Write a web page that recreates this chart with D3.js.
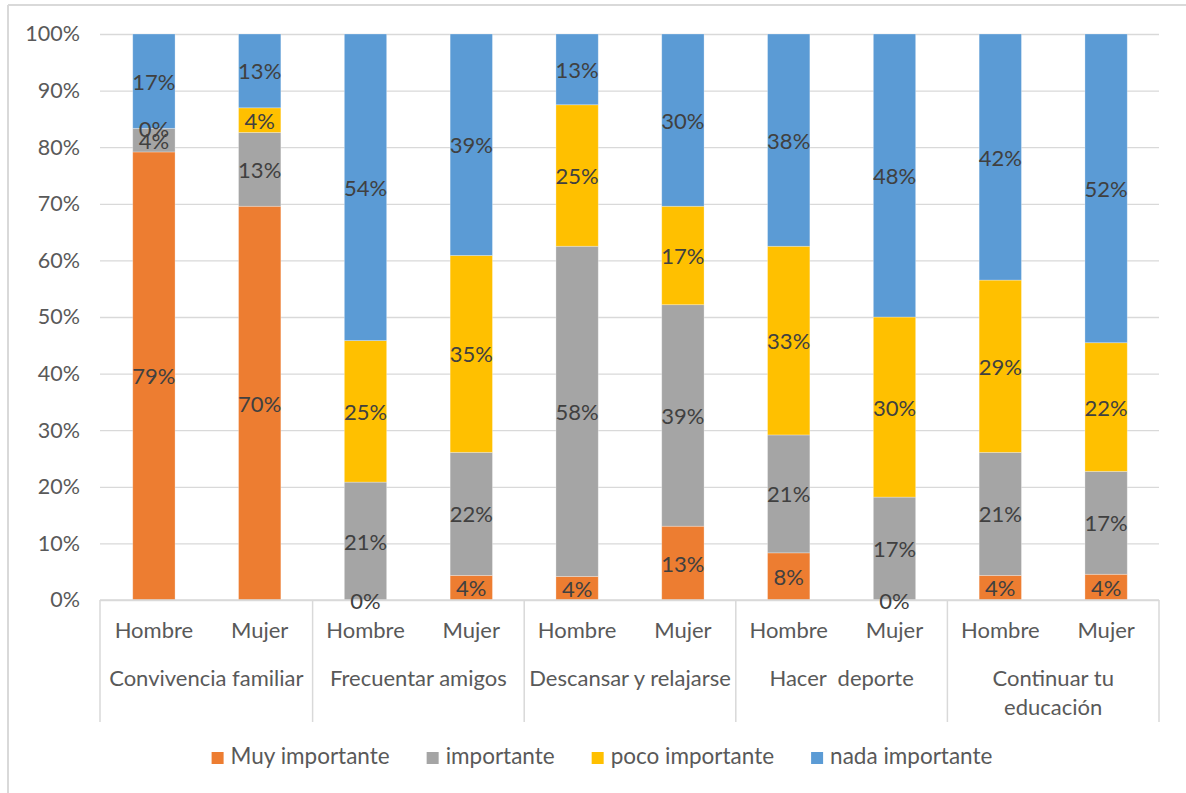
<!DOCTYPE html>
<html>
<head>
<meta charset="utf-8">
<script src="https://cdn.jsdelivr.net/npm/d3@7/dist/d3.min.js"></script>
<style>
  html, body { margin: 0; padding: 0; background: #ffffff; }
  svg { display: block; font-family: Lato, "Liberation Sans", sans-serif; }
  text { white-space: pre; }
</style>
</head>
<body>
<svg id="chart" width="1186" height="793"></svg>
<script>
// Activity groups, split into two lines where the label wraps
const groupLabels = [
  ["Convivencia familiar"],
  ["Frecuentar amigos"],
  ["Descansar y relajarse"],
  ["Hacer  deporte"],
  ["Continuar tu", "educación"]
];
const subLabels = ["Hombre", "Mujer"];

// Series (percent of respondents), one value per bar: group × sex
const seriesNames = ["Muy importante", "importante", "poco importante", "nada importante"];
const muyImportante  = [79.17, 69.57,  0.00,  4.35,  4.17, 13.04,  8.33,  0.00,  4.17,  4.35];
const importante     = [ 4.17, 13.04, 20.83, 21.74, 58.33, 39.13, 20.83, 17.39, 20.83, 17.39];
const pocoImportante = [ 0.00,  4.35, 25.00, 34.78, 25.00, 17.39, 33.33, 30.43, 29.17, 21.74];
const nadaImportante = [16.67, 13.04, 54.17, 39.13, 12.50, 30.43, 37.50, 47.83, 41.67, 52.17];
const yTicks = [0, 0.1, 0.2, 0.3, 0.4, 0.5, 0.6, 0.7, 0.8, 0.9, 1];

const colors = ["#ED7D31", "#A5A5A5", "#FFC000", "#5B9BD5"];

// Build one row per bar
const rows = [];
groupLabels.forEach((g, gi) => {
  subLabels.forEach((s, si) => {
    const i = gi * subLabels.length + si;
    rows.push({
      key: i,
      group: gi,
      sub: s,
      [seriesNames[0]]: muyImportante[i],
      [seriesNames[1]]: importante[i],
      [seriesNames[2]]: pocoImportante[i],
      [seriesNames[3]]: nadaImportante[i]
    });
  });
});

const svg = d3.select("#chart");
const plot = { left: 100, right: 1159, top: 34, bottom: 600 };

// Outer chart frame
svg.append("line").attr("x1", 8).attr("x2", 1186).attr("y1", 5).attr("y2", 5)
  .attr("stroke", "#d9d9d9").attr("stroke-width", 2);
svg.append("line").attr("x1", 8).attr("x2", 8).attr("y1", 5).attr("y2", 793)
  .attr("stroke", "#d9d9d9").attr("stroke-width", 2);

const x = d3.scaleBand()
  .domain(rows.map(d => d.key))
  .range([plot.left + 1, plot.right])
  .paddingInner(0.6)
  .paddingOuter(0.3);

const y = d3.scaleLinear().domain([0, 1]).range([plot.bottom, plot.top]);

// Gridlines and percent axis
const yAxis = d3.axisLeft(y)
  .tickValues(yTicks)
  .tickFormat(d3.format(".0%"))
  .tickSize(-(plot.right - plot.left))
  .tickPadding(20);

const yg = svg.append("g")
  .attr("transform", `translate(${plot.left},0)`)
  .call(yAxis);
yg.select(".domain").remove();
yg.selectAll(".tick line").attr("stroke", "#d9d9d9").attr("stroke-width", 1.3);
yg.selectAll(".tick text")
  .attr("fill", "#595959")
  .style("font-size", "21.5px")
  .style("font-family", "Lato, sans-serif");

// Stacked 100% bars
const stack = d3.stack().keys(seriesNames).offset(d3.stackOffsetExpand);
const layers = stack(rows);

const layerG = svg.append("g").selectAll("g")
  .data(layers)
  .join("g")
  .attr("fill", (d, i) => colors[i]);

layerG.selectAll("rect")
  .data(d => d)
  .join("rect")
  .attr("x", d => x(d.data.key))
  .attr("width", x.bandwidth())
  .attr("y", d => y(d[1]))
  .attr("height", d => y(d[0]) - y(d[1]))
  .attr("stroke", "#ffffff")
  .attr("stroke-opacity", 0.35)
  .attr("stroke-width", 0.8);

// Category axis line and group dividers
svg.append("line")
  .attr("x1", plot.left).attr("x2", plot.right)
  .attr("y1", plot.bottom).attr("y2", plot.bottom)
  .attr("stroke", "#d9d9d9").attr("stroke-width", 1.5);

const groupEdges = d3.range(groupLabels.length + 1).map(i => {
  if (i === 0) return plot.left;
  if (i === groupLabels.length) return plot.right;
  const a = x(i * 2 - 1) + x.bandwidth();
  const b = x(i * 2);
  return (a + b) / 2;
});

svg.append("g").selectAll("line")
  .data(groupEdges)
  .join("line")
  .attr("x1", d => d).attr("x2", d => d)
  .attr("y1", plot.bottom).attr("y2", 722)
  .attr("stroke", "#d9d9d9").attr("stroke-width", 1.5);

// Data labels
svg.append("g").selectAll("g")
  .data(layers)
  .join("g")
  .selectAll("text")
  .data(d => d.map(p => ({ p, key: d.key })))
  .join("text")
  .attr("x", d => x(d.p.data.key) + x.bandwidth() / 2)
  .attr("y", d => (y(d.p[0]) + y(d.p[1])) / 2)
  .attr("text-anchor", "middle")
  .attr("dominant-baseline", "central")
  .attr("fill", "#404040")
  .style("font-size", "22px")
  .text(d => Math.round(d.p.data[d.key]) + "%");

// Sub-category labels (Hombre / Mujer)
svg.append("g").selectAll("text")
  .data(rows)
  .join("text")
  .attr("x", d => x(d.key) + x.bandwidth() / 2)
  .attr("y", 638)
  .attr("text-anchor", "middle")
  .attr("fill", "#595959")
  .style("font-size", "22px")
  .text(d => d.sub);

// Group labels
const gl = svg.append("g").selectAll("text")
  .data(groupLabels)
  .join("text")
  .attr("x", (d, i) => (groupEdges[i] + groupEdges[i + 1]) / 2)
  .attr("y", 686)
  .attr("text-anchor", "middle")
  .attr("fill", "#595959")
  .style("font-size", "22px");
gl.selectAll("tspan")
  .data(d => d)
  .join("tspan")
  .attr("x", function () { return d3.select(this.parentNode).attr("x"); })
  .attr("dy", (d, i) => i === 0 ? 0 : 29)
  .text(d => d);

// Legend
const legend = svg.append("g");
const items = legend.selectAll("g")
  .data(seriesNames)
  .join("g");
items.append("rect")
  .attr("width", 12).attr("height", 12)
  .attr("y", -12)
  .attr("fill", (d, i) => colors[i]);
items.append("text")
  .attr("x", 19)
  .attr("fill", "#595959")
  .style("font-size", "22.5px")
  .text(d => d);

const widths = [];
items.each(function () {
  const w = 19 + d3.select(this).select("text").node().getComputedTextLength();
  widths.push(w);
});
const gap = 37;
const total = d3.sum(widths) + gap * (widths.length - 1);
const start = 602 - total / 2;
items.attr("transform", (d, i) => {
  const tx = start + d3.sum(widths.slice(0, i)) + gap * i;
  return `translate(${tx},764)`;
});
</script>
</body>
</html>
